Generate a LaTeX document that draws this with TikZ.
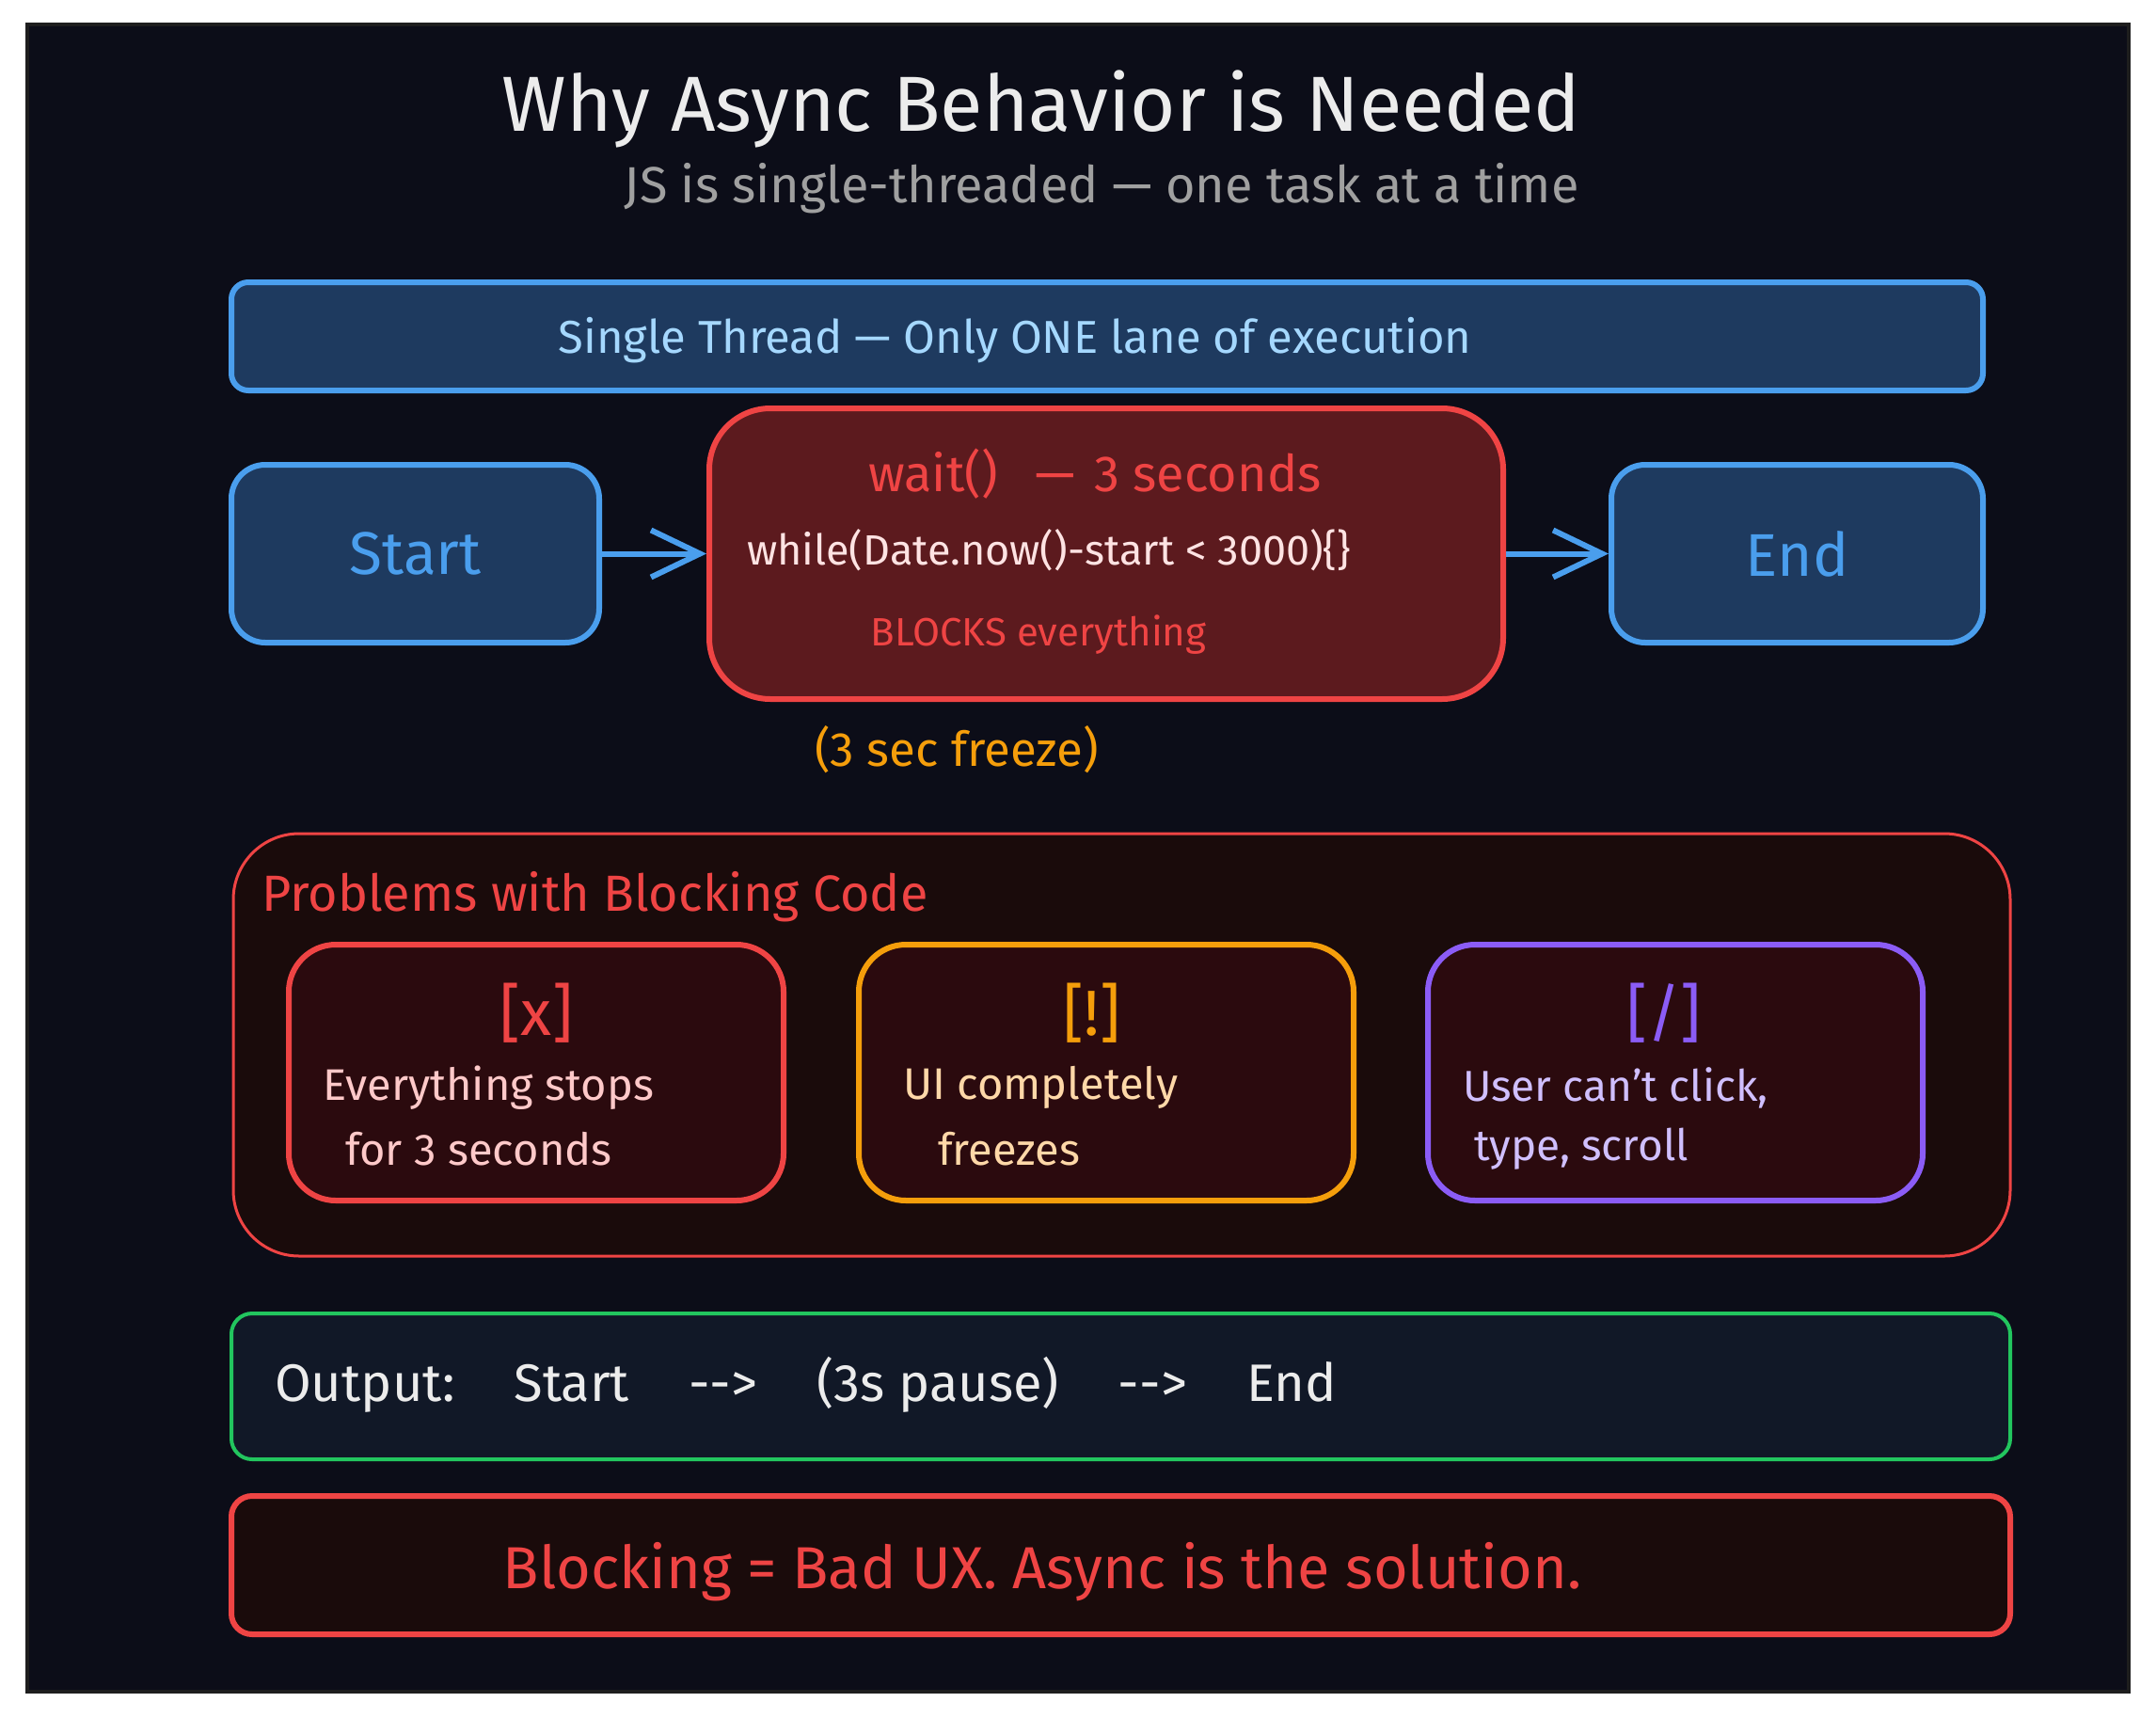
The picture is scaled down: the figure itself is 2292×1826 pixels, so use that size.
\documentclass[tikz,border=0pt]{standalone}
\usepackage{fontspec}
\setmainfont{Fira Sans}
\usetikzlibrary{positioning,arrows.meta}
\definecolor{bg}{HTML}{0C0D18}
\definecolor{frm}{HTML}{1E1E1E}
\definecolor{ink}{HTML}{ECECEC}
\definecolor{ink2}{HTML}{A0A0A0}
\definecolor{acc}{HTML}{4A9EED}
\definecolor{soft}{HTML}{1E3A5F}
\definecolor{sky}{HTML}{A5D8FF}
\definecolor{hot}{HTML}{EF4444}
\definecolor{hotfill}{HTML}{5C1A1E}
\definecolor{hottxt}{HTML}{FFE3E3}
\definecolor{dark}{HTML}{1A0B0B}
\definecolor{darkin}{HTML}{2B0A0E}
\definecolor{warm}{HTML}{F59E0B}
\definecolor{warmtxt}{HTML}{FFD8A8}
\definecolor{pinktxt}{HTML}{FFC9C9}
\definecolor{vio}{HTML}{8B5CF6}
\definecolor{viotxt}{HTML}{D0BFFF}
\definecolor{ok}{HTML}{22C55E}
\definecolor{navy}{HTML}{111827}
\tikzset{
  blk/.style={draw,rounded corners=36pt,line width=6pt,inner sep=0pt},
  bluebox/.style={blk,draw=acc,fill=soft},
  redbox/.style={blk,draw=hot,fill=hotfill,rounded corners=65pt},
  card/.style={blk,fill=darkin,rounded corners=50pt,minimum width=526pt,minimum height=272pt},
  wide/.style={blk,rounded corners=22pt,line width=4pt,minimum width=1891pt},
  arr/.style={-{Straight Barb[length=52pt,width=50pt,line width=6pt]},line width=6pt,draw=acc},
  txt/.style={inner sep=0pt,font=\fontsize{#1}{#1}\selectfont},
  txt/.default=44,
}
\begin{document}
\begin{tikzpicture}[x=1pt,y=-1pt]
\useasboundingbox (0,0) rectangle (2292,1826);
\fill[white] (0,0) rectangle (2292,1826);
\fill[bg] (29,26) rectangle (2263,1798);
\draw[frm,line width=4pt] (29,26) rectangle (2263,1798);
% heading
\node[txt=83,text=ink] (title) at (1107,116) {Why Async Behavior is Needed};
\node[txt=54,text=ink2] (sub) at (1171,200) {JS is single-threaded — one task at a time};
% the one lane
\node[bluebox,rounded corners=18pt,minimum width=1862pt,minimum height=115pt] (lane) at (1177,357.5) {};
\node[txt=49,text=sky] (lanetxt) at (1079,362) {Single Thread — Only ONE lane of execution};
% start -> wait -> end
\node[bluebox,minimum width=391pt,minimum height=189pt] (start) at (441.5,588.5) {};
\node[txt=64,text=acc] at (start.center) {Start};
\node[redbox,minimum width=844pt,minimum height=309pt] (wait) at (1176,588.5) {};
\node[txt=54,text=hot] (waittxt) at (1164,504) {wait()\hspace{40pt}—\hspace{20pt}3 seconds};
\node[txt=45,text=hottxt] (code) at (1115,585) {while(Date.now()-start < 3000)\{\}};
\node[txt=42,text=hot] (blocks) at (1104,675) {BLOCKS everything};
\node[bluebox,minimum width=395pt,minimum height=189pt] (end) at (1910.5,588.5) {};
\node[txt=64,text=acc] at (end.center) {End};
\draw[arr] (start) -- (wait);
\draw[arr] (wait) -- (end);
\node[txt=51,text=warm] (freeze) at (1017,797) {(3 sec freeze)};
% problems
\node[blk,draw=hot,fill=dark,line width=3pt,rounded corners=70pt,minimum width=1889pt,minimum height=449pt] (probs) at (1192.5,1110.5) {};
\node[txt=54,text=hot,anchor=west] (probstxt) at (278,953) {Problems with Blocking Code};
\node[card,draw=hot] (stop) at (570,1140) {};
\node[card,draw=warm] (ui) at (1176,1140) {};
\node[card,draw=vio] (user) at (1781,1140) {};
\node[txt=68,text=hot] at (570,1077) {[x]};
\node[txt=68,text=warm] at (1161,1077) {[!]};
\node[txt=68,text=vio] at (1769,1077) {[/]};
\node[txt=47,text=pinktxt,anchor=west] at (343,1156) {Everything stops};
\node[txt=47,text=pinktxt,anchor=west] at (367,1221) {for 3 seconds};
\node[txt=47,text=warmtxt,anchor=west] at (960,1156) {UI completely};
\node[txt=47,text=warmtxt,anchor=west] at (997,1221) {freezes};
\node[txt=46,text=viotxt,anchor=west] at (1555,1156) {User can't click,};
\node[txt=46,text=viotxt,anchor=west] at (1567,1221) {type, scroll};
% output
\node[wide,draw=ok,fill=navy,minimum height=155pt] (out) at (1191.5,1473.5) {};
\node[txt=56,text=ink,anchor=west] (outtxt) at (292,1472) {Output:\hspace{63pt}Start\hspace{63pt}{-}{-}>\hspace{63pt}(3s pause)\hspace{63pt}{-}{-}>\hspace{63pt}End};
% verdict
\node[wide,draw=hot,fill=dark,line width=6pt,minimum height=147pt] (verdict) at (1191.5,1663.5) {};
\node[txt=63,text=hot] (verdicttxt) at (1108,1671) {Blocking = Bad UX. Async is the solution.};
\end{tikzpicture}
\end{document}
